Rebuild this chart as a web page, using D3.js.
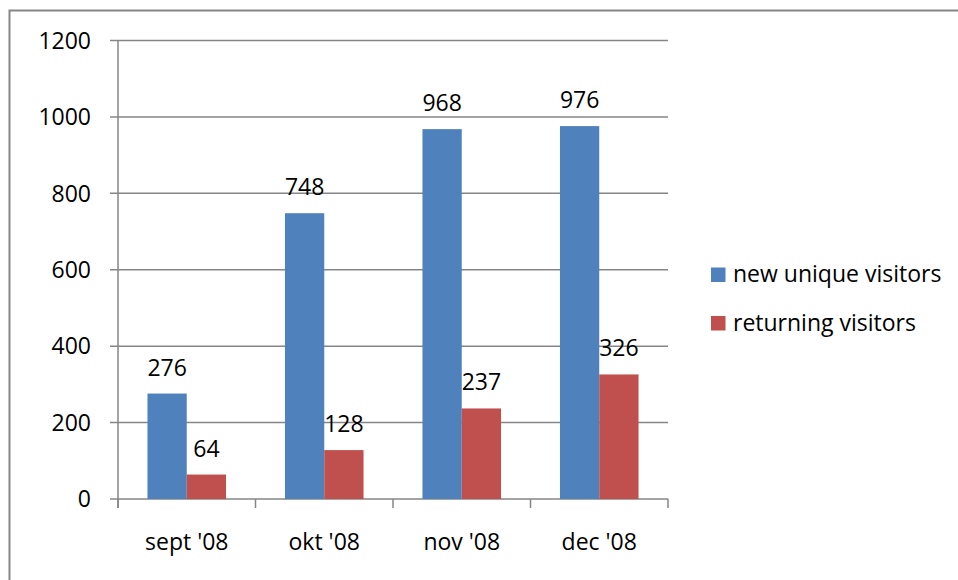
<!DOCTYPE html>
<html>
<head>
<meta charset="utf-8">
<script src="https://cdn.jsdelivr.net/npm/d3@7"></script>
<style>
  html, body { margin: 0; padding: 0; background: #fff; }
  svg { display: block; }
  text { font-family: "Open Sans", "Noto Sans", sans-serif; fill: #000; }
</style>
</head>
<body>
<svg id="chart" width="958" height="580"></svg>
<script>
const categories = ["sept '08", "okt '08", "nov '08", "dec '08"];
const seriesNames = ["new unique visitors", "returning visitors"];
const newUnique = [276, 748, 968, 976];
const returning = [64, 128, 237, 326];
const yTicks = [0, 200, 400, 600, 800, 1000, 1200];
const colors = ["#4F81BD", "#C0504D"];

(function () {
const svg = d3.select("#chart");
const fontSize = 23;
const grid = "#868686";

// outer border (extends beyond the viewport on right and bottom)
svg.append("rect")
  .attr("x", 9.5).attr("y", 10.5)
  .attr("width", 1000).attr("height", 700)
  .attr("fill", "none").attr("stroke", grid).attr("stroke-width", 2);

const pLeft = 118, pRight = 668, pTop = 40.5, pBottom = 499;
const x = d3.scaleBand().domain(categories).range([pLeft, pRight]).paddingInner(0).paddingOuter(0);
const y = d3.scaleLinear().domain([0, 1200]).range([pBottom, pTop]);
const bw = x.bandwidth();
const barW = bw / 3.5;
const x1 = d3.scaleBand().domain([0, 1]).range([0.75 * barW, 0.75 * barW + 2 * barW]).padding(0);

// gridlines
svg.append("g").selectAll("line").data(yTicks).join("line")
  .attr("x1", pLeft - 8).attr("x2", pRight)
  .attr("y1", d => y(d)).attr("y2", d => y(d))
  .attr("stroke", grid).attr("stroke-width", 1.5);

// y axis line
svg.append("line").attr("x1", pLeft).attr("x2", pLeft)
  .attr("y1", y(1200)).attr("y2", pBottom + 9)
  .attr("stroke", grid).attr("stroke-width", 1.5);

// x ticks at band boundaries
const bounds = categories.map(c => x(c)).concat([pRight]);
svg.append("g").selectAll("line").data(bounds).join("line")
  .attr("x1", d => d).attr("x2", d => d)
  .attr("y1", pBottom).attr("y2", pBottom + 9)
  .attr("stroke", grid).attr("stroke-width", 1.5);

// y labels
svg.append("g").selectAll("text").data(yTicks).join("text")
  .attr("x", 91).attr("y", d => y(d) + 0.357 * fontSize)
  .attr("text-anchor", "end").attr("font-size", fontSize)
  .text(d => d);

// x labels
svg.append("g").selectAll("text").data(categories).join("text")
  .attr("x", d => x(d) + bw / 2).attr("y", 550)
  .attr("text-anchor", "middle").attr("font-size", fontSize)
  .text(d => d);

// bars
const series = [newUnique, returning];
series.forEach((vals, si) => {
  const g = svg.append("g");
  g.selectAll("rect").data(vals).join("rect")
    .attr("x", (d, i) => x(categories[i]) + x1(si))
    .attr("y", d => y(d))
    .attr("width", x1.bandwidth())
    .attr("height", d => pBottom - y(d))
    .attr("fill", colors[si]);
  g.selectAll("text").data(vals).join("text")
    .attr("x", (d, i) => x(categories[i]) + x1(si) + x1.bandwidth() / 2)
    .attr("y", d => y(d) - 18)
    .attr("text-anchor", "middle").attr("font-size", fontSize)
    .text(d => d);
});

// legend
const legend = svg.append("g");
seriesNames.forEach((name, i) => {
  const ly = 267.5 + i * 48.5;
  legend.append("rect").attr("x", 711).attr("y", ly)
    .attr("width", 14.5).attr("height", 14.5).attr("fill", colors[i]);
  legend.append("text").attr("x", 733).attr("y", ly + 14.5)
    .attr("font-size", fontSize).text(name);
});
})();
</script>
</body>
</html>
